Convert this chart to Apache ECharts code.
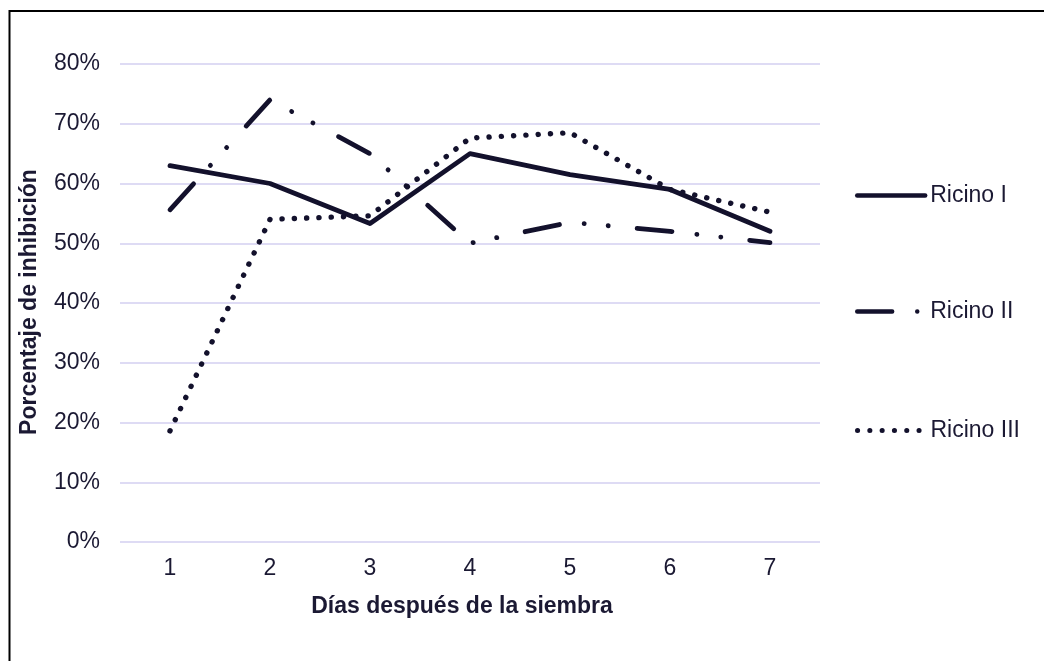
<!DOCTYPE html>
<html>
<head>
<meta charset="utf-8">
<style>
  html, body { margin: 0; padding: 0; background: #ffffff; }
  #chart { width: 1044px; height: 661px; }
</style>
<script src="https://cdn.jsdelivr.net/npm/echarts@6/dist/echarts.min.js"></script>
</head>
<body>
<div id="chart"></div>
<script>
// Days after sowing
const dias = ['1', '2', '3', '4', '5', '6', '7'];

// Inhibition percentage per treatment
const ricinoI   = [63, 60, 53.3, 65, 61.5, 59, 52];
const ricinoII  = [55.6, 74, 65, 50, 53.5, 52, 50.1];
const ricinoIII = [18.6, 54, 54.6, 67.6, 68.5, 59, 55.2];

const seriesNames = ['Ricino I', 'Ricino II', 'Ricino III'];

const ink = '#13112c';
const textInk = '#1b1933';
const font = "'Liberation Sans', Arial, sans-serif";

// Stroke width and dash pattern for each series (shared by its legend icon)
const styles = [
  { width: 4.8, type: 'solid' },
  { width: 4.8, type: [35, 25, 0.1, 24, 0.1, 29] },
  { width: 5.4, type: [0.1, 12.2] }
];

const chart = echarts.init(document.getElementById('chart'), null, { renderer: 'canvas' });

function lineSeries(name, data, st) {
  return {
    name: name,
    type: 'line',
    data: data,
    symbol: 'none',
    animation: false,
    lineStyle: {
      color: ink,
      width: st.width,
      type: st.type,
      cap: 'round',
      join: 'round'
    },
    emphasis: { disabled: true },
    itemStyle: { color: ink }
  };
}

function legendFor(name, st, top) {
  return {
    data: [name],
    left: 850,
    top: top,
    orient: 'vertical',
    itemWidth: 68,
    itemHeight: 14,
    itemGap: 0,
    itemStyle: { opacity: 0 },
    lineStyle: { width: st.width - 0.4, type: st.type, cap: 'round', color: ink },
    textStyle: { color: textInk, fontSize: 23, fontFamily: font, padding: [0, 0, 0, 0] },
    selectedMode: false
  };
}

chart.setOption({
  backgroundColor: '#ffffff',
  animation: false,
  grid: { left: 120, right: 224, top: 64, bottom: 119, containLabel: false },
  xAxis: {
    type: 'category',
    data: dias,
    boundaryGap: true,
    axisLine: { show: false },
    axisTick: { show: false },
    axisLabel: { color: textInk, fontSize: 23, fontFamily: font, margin: 15 }
  },
  yAxis: {
    type: 'value',
    min: 0,
    max: 80,
    interval: 10,
    axisLine: { show: false },
    axisTick: { show: false },
    axisLabel: { color: textInk, fontSize: 23, fontFamily: font, margin: 20, formatter: '{value}%' },
    splitLine: { lineStyle: { color: '#d3cff1', width: 1.6 } }
  },
  legend: [
    legendFor(seriesNames[0], styles[0], 179),
    legendFor(seriesNames[1], styles[1], 295),
    legendFor(seriesNames[2], styles[2], 414)
  ],
  series: [
    lineSeries(seriesNames[0], ricinoI, styles[0]),
    lineSeries(seriesNames[1], ricinoII, styles[1]),
    lineSeries(seriesNames[2], ricinoIII, styles[2])
  ],
  graphic: [
    {
      type: 'rect',
      silent: true,
      shape: { x: 9.5, y: 11, width: 1200, height: 800 },
      style: { fill: 'none', stroke: '#000000', lineWidth: 2 }
    },
    {
      type: 'text',
      silent: true,
      x: 462,
      y: 607,
      style: {
        text: 'Días después de la siembra',
        fill: textInk,
        font: 'bold 23px ' + font,
        textAlign: 'center',
        textVerticalAlign: 'middle'
      }
    },
    {
      type: 'text',
      silent: true,
      x: 30,
      y: 302,
      rotation: Math.PI / 2,
      style: {
        text: 'Porcentaje de inhibición',
        fill: textInk,
        font: 'bold 23px ' + font,
        textAlign: 'center',
        textVerticalAlign: 'middle'
      }
    }
  ]
});
</script>
</body>
</html>
